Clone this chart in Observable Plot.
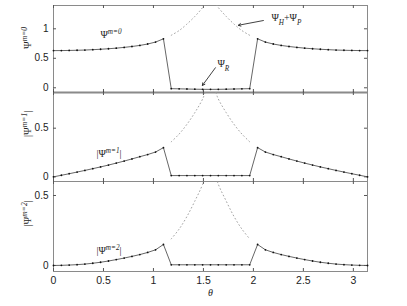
<!DOCTYPE html>
<html>
<head>
<meta charset="utf-8">
<script src="https://cdn.jsdelivr.net/npm/d3@7"></script>
<script src="https://cdn.jsdelivr.net/npm/@observablehq/plot@0.6"></script>
<style>
  html, body { margin: 0; padding: 0; background: white; }
  #chart { position: relative; width: 407px; height: 306px; }
  #chart > svg { position: absolute; left: 0; }
</style>
</head>
<body>
<div id="chart"></div>
<script>
// ---- data ----
const theta = [0.000,0.079,0.157,0.236,0.314,0.393,0.471,0.550,0.628,0.707,0.785,0.864,0.942,1.021,1.100,
  1.178,1.257,1.335,1.414,1.492,1.571,1.649,1.728,1.806,1.885,1.963,
  2.042,2.120,2.199,2.278,2.356,2.435,2.513,2.592,2.670,2.749,2.827,2.906,2.985,3.063,3.142];
const psi0 = [0.630,0.631,0.633,0.636,0.640,0.646,0.653,0.662,0.672,0.685,0.700,0.718,0.742,0.775,0.830,
  -0.015,-0.018,-0.021,-0.024,-0.026,-0.027,-0.026,-0.024,-0.021,-0.018,-0.015,
  0.830,0.775,0.742,0.718,0.700,0.685,0.672,0.662,0.653,0.646,0.640,0.636,0.633,0.631,0.630];
const psi1 = [0.000,0.016,0.032,0.049,0.066,0.084,0.102,0.121,0.141,0.162,0.184,0.207,0.229,0.255,0.300,
  0.013,0.013,0.013,0.013,0.013,0.013,0.013,0.013,0.013,0.013,0.013,
  0.300,0.255,0.229,0.207,0.184,0.162,0.141,0.121,0.102,0.084,0.066,0.049,0.032,0.016,0.000];
const psi2 = [0.000,0.001,0.003,0.006,0.010,0.016,0.023,0.032,0.042,0.053,0.065,0.078,0.093,0.112,0.150,
  0.005,0.005,0.005,0.005,0.005,0.005,0.005,0.005,0.005,0.005,0.005,
  0.150,0.112,0.093,0.078,0.065,0.053,0.042,0.032,0.023,0.016,0.010,0.006,0.003,0.001,0.000];
const thetaMid = [1.178,1.257,1.335,1.414,1.492,1.571,1.649,1.728,1.806,1.885,1.963];
const hp0 = [0.89,0.97,1.08,1.21,1.36,1.55,1.36,1.21,1.08,0.97,0.89];
const hp1 = [0.36,0.44,0.54,0.66,0.80,1.00,0.80,0.66,0.54,0.44,0.36];
const hp2 = [0.19,0.26,0.35,0.46,0.58,0.75,0.58,0.46,0.35,0.26,0.19];

const xTicks = [0, 0.5, 1, 1.5, 2, 2.5, 3];
const xTickLabels = ["0", "0.5", "1", "1.5", "2", "2.5", "3"];
const yTicks0 = [0, 0.5, 1];
const yTicks1 = [0, 0.5];
const yTicks2 = [0, 0.5];
const yLabels = ["Ψ^{m=0}", "|Ψ^{m=1}|", "|Ψ^{m=2}|"];
const xLabel = "θ";

// annotations
const notes0 = [
  {x: 0.47, y: 0.90, t: "Ψ^{m=0}"},
  {x: 2.18, y: 1.19, t: "Ψ_{H}+Ψ_{P}"},
  {x: 1.64, y: 0.41, t: "Ψ_{R}"}
];
const arrows0 = [
  {x1: 2.10, y1: 1.14, x2: 1.85, y2: 1.06},
  {x1: 1.62, y1: 0.34, x2: 1.49, y2: 0.04}
];
const notes1 = [{x: 0.43, y: 0.24, t: "|Ψ^{m=1}|"}];
const notes2 = [{x: 0.43, y: 0.105, t: "|Ψ^{m=2}|"}];

// ---- layout ----
const W = 407, ML = 53, MR = 40;
const xDomain = [0, Math.PI];
const panels = [
  {top: 0,   height: 92,  mt: 5, mb: 0,  dom: [-0.08, 1.395], y: psi0, hp: hp0, ticks: yTicks0, notes: notes0, arrows: arrows0, thick: true},
  {top: 92,  height: 89,  mt: 0, mb: 0,  dom: [-0.048, 0.867], y: psi1, hp: hp1, ticks: yTicks1, notes: notes1, arrows: []},
  {top: 181, height: 125, mt: 0, mb: 35, dom: [-0.043, 0.60], y: psi2, hp: hp2, ticks: yTicks2, notes: notes2, arrows: [], bottom: true}
];

const tickFont = "Liberation Sans, Arial, sans-serif";
const mathFont = "Liberation Serif, Times New Roman, serif";

const chart = document.getElementById("chart");
panels.forEach((p, i) => {
  const pw = W - ML - MR;
  const ph = p.height - p.mt - p.mb;
  const pts = theta.map((t, j) => ({t, v: p.y[j]}));
  const hps = thetaMid.map((t, j) => ({t, v: p.hp[j]}));
  const marks = [
    Plot.frame({stroke: "#8a8a8a", strokeWidth: 1}),
    // inside ticks, four sides
    Plot.tickX(xTicks, {x: d => d, stroke: "#555", insetTop: ph - 3}),
    Plot.tickX(xTicks, {x: d => d, stroke: "#555", insetBottom: ph - 3}),
    Plot.tickY(p.ticks, {y: d => d, stroke: "#555", insetRight: pw - 3}),
    Plot.tickY(p.ticks, {y: d => d, stroke: "#555", insetLeft: pw - 3}),
    Plot.axisY(p.ticks, {anchor: "left", tickSize: 0, tickPadding: 5, fontSize: 10, fontFamily: tickFont, fill: "#222", label: null, tickFormat: d => String(d)}),
    Plot.line(hps, {x: "t", y: "v", stroke: "#999", strokeWidth: 0.9, strokeDasharray: "0.9,2.8", curve: "catmull-rom", clip: true}),
    Plot.line(pts, {x: "t", y: "v", stroke: "#555", strokeWidth: 0.9}),
    Plot.dot(pts, {x: "t", y: "v", r: 0.9, fill: "#111", stroke: null}),
    Plot.text(p.notes, {x: "x", y: "y", text: "t", textAnchor: "start", fontFamily: mathFont, fontSize: 10, fill: "#222"}),
    Plot.arrow(p.arrows, {x1: "x1", y1: "y1", x2: "x2", y2: "y2", stroke: "#111", strokeWidth: 0.8, headLength: 5}),
    Plot.text([yLabels[i]], {frameAnchor: "left", text: d => d, rotate: -90, dx: -26, fontFamily: mathFont, fontSize: 10.5, fill: "#222"})
  ];
  if (p.thick) marks.push(Plot.ruleY([p.dom[0]], {stroke: "#111", strokeWidth: 1.6}));
  if (p.bottom) {
    marks.push(Plot.axisX(xTicks, {anchor: "bottom", tickSize: 0, tickPadding: 5, fontSize: 10.5, fontFamily: tickFont, fill: "#222", label: null, tickFormat: (d, j) => xTickLabels[j]}));
    marks.push(Plot.text([xLabel], {frameAnchor: "bottom", text: d => d, dy: 24, fontFamily: mathFont, fontStyle: "italic", fontSize: 10, fill: "#222"}));
  } else {
    marks.push(Plot.axisX({ticks: [], label: null}));
  }
  const svg = Plot.plot({
    width: W, height: p.height,
    marginLeft: ML, marginRight: MR, marginTop: p.mt, marginBottom: p.mb,
    x: {domain: xDomain, axis: null},
    y: {domain: p.dom, axis: null},
    style: {background: "transparent", overflow: "visible"},
    marks
  });
  svg.style.top = p.top + "px";
  chart.appendChild(svg);
});

// rich text: ^{..} superscript, _{..} subscript
d3.select(chart).selectAll("text").each(function () {
  const s = this.textContent;
  if (!/[\^_]\{/.test(s)) return;
  const el = d3.select(this);
  el.selectAll("*").remove();
  el.text(null);
  const re = /([\^_])\{([^}]*)\}/g;
  let last = 0, m;
  while ((m = re.exec(s))) {
    if (m.index > last) el.append("tspan").text(s.slice(last, m.index));
    el.append("tspan")
      .attr("baseline-shift", m[1] === "^" ? "super" : "sub")
      .attr("font-size", "72%")
      .attr("font-style", "italic")
      .text(m[2]);
    last = re.lastIndex;
  }
  if (last < s.length) el.append("tspan").text(s.slice(last));
});
</script>
</body>
</html>
